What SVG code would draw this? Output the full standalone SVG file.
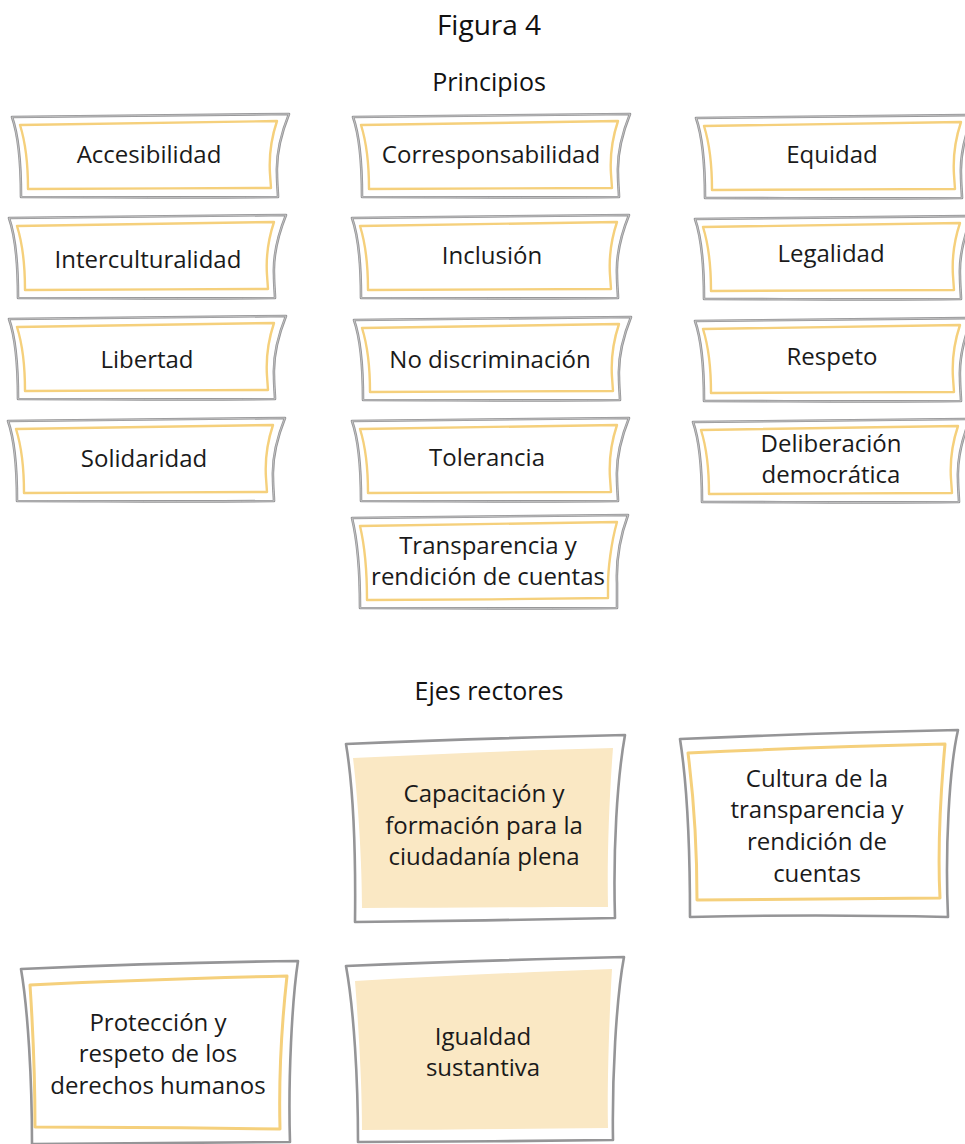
<svg xmlns="http://www.w3.org/2000/svg" xmlns:xlink="http://www.w3.org/1999/xlink" width="965" height="1144" viewBox="0 0 965 1144">
<style>
  .t{font-family:"Open Sans","Noto Sans","Liberation Sans",sans-serif;font-size:24px;fill:#1a1a1a;text-anchor:middle}
  .h{font-family:"Open Sans","Noto Sans","Liberation Sans",sans-serif;font-size:25px;fill:#111;text-anchor:middle}
  .h1{font-family:"Open Sans","Noto Sans","Liberation Sans",sans-serif;font-size:28px;fill:#111;text-anchor:middle}
  .g{fill:#fff;stroke:#959597;stroke-width:2.6;stroke-linejoin:round}
  .gl{fill:none;stroke:#dcdcdc;stroke-width:0.6}
  .y{fill:none;stroke:#F5D07C;stroke-width:2.4;stroke-linejoin:round}
  .yf{fill:#FAE8C4;stroke:none}
</style>
<defs>
  <path id="po" d="M0,3 L277,0 C269,20 264,40 265,60 C265,70 266,78 266,83 C180,84 90,83 9,83 C9,50 6,20 0,3 Z"/>
  <path id="pi" d="M8,11 L265,7 C259,25 257,45 258,60 L259,74 C180,74 90,75 16,75 C16,55 14,30 8,11 Z"/>
  <path id="po2" d="M0,3 L276,0 C268,22 264,45 265,68 L265,93 C180,94 90,93 8,93 C8,65 6,28 0,3 Z"/>
  <path id="pi2" d="M8,11 L265,7 C259,28 256,55 256,70 L256,83 C180,84 90,85 15,85 C15,60 13,32 8,11 Z"/>
</defs>

<text class="h1" x="489" y="35">Figura 4</text>
<text class="h" x="489" y="91">Principios</text>
<text class="h" x="489" y="700">Ejes rectores</text>

<g id="connectors"></g>

<!-- Principios -->
<g id="accesibilidad" transform="translate(12,114)"><use xlink:href="#po" class="g"/><use xlink:href="#po" class="gl"/><use xlink:href="#pi" class="y"/><text class="t" x="137" y="49">Accesibilidad</text></g>
<g id="corresponsabilidad" transform="translate(353,114)"><use xlink:href="#po" class="g"/><use xlink:href="#po" class="gl"/><use xlink:href="#pi" class="y"/><text class="t" x="138" y="49">Corresponsabilidad</text></g>
<g id="equidad" transform="translate(696,115)"><use xlink:href="#po" class="g"/><use xlink:href="#po" class="gl"/><use xlink:href="#pi" class="y"/><text class="t" x="136" y="48">Equidad</text></g>

<g id="interculturalidad" transform="translate(9,215)"><use xlink:href="#po" class="g"/><use xlink:href="#po" class="gl"/><use xlink:href="#pi" class="y"/><text class="t" x="139" y="53">Interculturalidad</text></g>
<g id="inclusion" transform="translate(352,215)"><use xlink:href="#po" class="g"/><use xlink:href="#po" class="gl"/><use xlink:href="#pi" class="y"/><text class="t" x="140" y="49">Inclusión</text></g>
<g id="legalidad" transform="translate(695,216)"><use xlink:href="#po" class="g"/><use xlink:href="#po" class="gl"/><use xlink:href="#pi" class="y"/><text class="t" x="136" y="46">Legalidad</text></g>

<g id="libertad" transform="translate(9,316)"><use xlink:href="#po" class="g"/><use xlink:href="#po" class="gl"/><use xlink:href="#pi" class="y"/><text class="t" x="138" y="52">Libertad</text></g>
<g id="no-discriminacion" transform="translate(354,317)"><use xlink:href="#po" class="g"/><use xlink:href="#po" class="gl"/><use xlink:href="#pi" class="y"/><text class="t" x="136" y="51">No discriminación</text></g>
<g id="respeto" transform="translate(695,318)"><use xlink:href="#po" class="g"/><use xlink:href="#po" class="gl"/><use xlink:href="#pi" class="y"/><text class="t" x="137" y="47">Respeto</text></g>

<g id="solidaridad" transform="translate(8,418)"><use xlink:href="#po" class="g"/><use xlink:href="#po" class="gl"/><use xlink:href="#pi" class="y"/><text class="t" x="136" y="49">Solidaridad</text></g>
<g id="tolerancia" transform="translate(352,418)"><use xlink:href="#po" class="g"/><use xlink:href="#po" class="gl"/><use xlink:href="#pi" class="y"/><text class="t" x="135" y="48">Tolerancia</text></g>
<g id="deliberacion" transform="translate(693,419)"><use xlink:href="#po" class="g"/><use xlink:href="#po" class="gl"/><use xlink:href="#pi" class="y"/><text class="t"><tspan x="138" y="33">Deliberación</tspan><tspan x="138" y="63.5">democrática</tspan></text></g>

<g id="transparencia" transform="translate(352,515)"><use xlink:href="#po2" class="g"/><use xlink:href="#po2" class="gl"/><use xlink:href="#pi2" class="y"/><text class="t"><tspan x="136" y="39">Transparencia y</tspan><tspan x="136" y="69.5">rendición de cuentas</tspan></text></g>

<!-- Ejes rectores -->
<g id="capacitacion">
  <path class="g" d="M346,744 C440,740 540,737 625,735 C617,780 613,850 615,918 C530,920 440,921 355,922 C356,840 352,780 346,744 Z"/>
  <path class="yf" d="M353,758 C440,754 530,750 613,748 C609,800 607,860 608,907 C520,907 440,908 362,908 C362,860 358,800 353,758 Z"/>
  <text class="t"><tspan x="484" y="802">Capacitación y</tspan><tspan x="484" y="834">formación para la</tspan><tspan x="484" y="865">ciudadanía plena</tspan></text>
</g>

<g id="cultura">
  <path class="g" d="M680,739 C770,735 870,732 958,730 C949,770 945,850 948,917 C860,915 770,915 690,917 C690,860 688,790 680,739 Z"/>
  <path class="y" d="M688,753 C770,749 860,746 945,744 C940,800 938,860 940,898 C860,898 780,899 697,900 C697,850 694,800 688,753 Z" style="stroke-width:3"/>
  <text class="t"><tspan x="817" y="787">Cultura de la</tspan><tspan x="817" y="818">transparencia y</tspan><tspan x="817" y="850">rendición de</tspan><tspan x="817" y="882">cuentas</tspan></text>
</g>

<g id="proteccion">
  <path class="g" d="M21,969 C110,965 210,962 298,961 C292,1000 288,1080 290,1142 C200,1142 110,1143 32,1144 C32,1080 28,1010 21,969 Z"/>
  <path class="y" d="M30,985 C110,981 200,978 287,976 C281,1030 279,1090 280,1129 C200,1128 110,1127 35,1127 C35,1080 33,1030 30,985 Z" style="stroke-width:3"/>
  <text class="t"><tspan x="158" y="1031">Protección y</tspan><tspan x="158" y="1062">respeto de los</tspan><tspan x="158" y="1094">derechos humanos</tspan></text>
</g>

<g id="igualdad">
  <path class="g" d="M346,966 C440,962 540,959 624,957 C616,1000 612,1080 613,1140 C530,1141 440,1142 358,1142 C358,1080 354,1010 346,966 Z"/>
  <path class="yf" d="M355,981 C440,976 530,972 612,969 C609,1020 607,1090 608,1128 C520,1129 440,1130 362,1130 C362,1080 358,1020 355,981 Z"/>
  <text class="t"><tspan x="483" y="1045">Igualdad</tspan><tspan x="483" y="1076">sustantiva</tspan></text>
</g>
</svg>
